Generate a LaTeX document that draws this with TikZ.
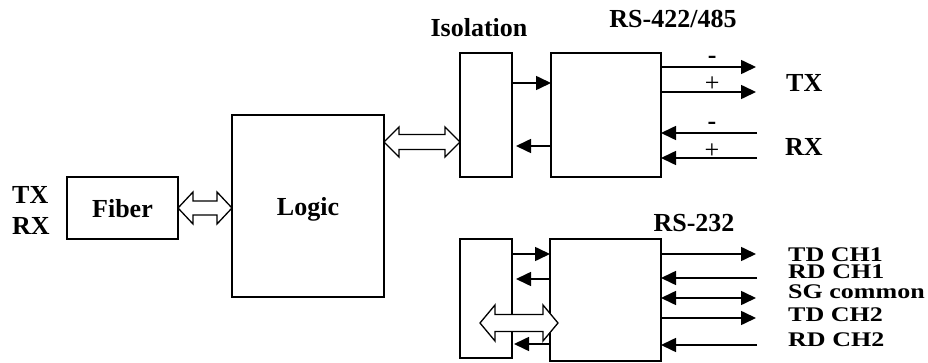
\documentclass[tikz,border=0pt]{standalone}
\usepackage{fontspec}
\setmainfont{Liberation Serif}
\usetikzlibrary{arrows.meta,calc}

% hollow two-headed bus arrow: from, to, half head, half shaft
\newcommand{\fatarrow}[4]{%
  \draw[busline] let \p1=#1, \p2=#2 in
    (\x1,\y1) -- (\x1+15pt,\y1+#3) -- (\x1+15pt,\y1+#4) -- (\x2-15pt,\y1+#4)
    -- (\x2-15pt,\y1+#3) -- (\x2,\y1) -- (\x2-15pt,\y1-#3) -- (\x2-15pt,\y1-#4)
    -- (\x1+15pt,\y1-#4) -- (\x1+15pt,\y1-#3) -- cycle;}

\begin{document}
\begin{tikzpicture}[
  x=1pt, y=-1pt,
  line join=miter,
  box/.style={draw, line width=1.5pt, inner sep=0pt, outer sep=0pt,
    font=\bfseries\fontsize{26}{30}\selectfont, text depth=0pt},
  lbl/.style={font=\bfseries\fontsize{26}{30}\selectfont, inner sep=0pt},
  sigl/.style={lbl, yscale=0.8},
  sign/.style={font=\fontsize{26}{30}\selectfont, inner sep=0pt, anchor=base},
  wire/.style={line width=1.6pt, -{Triangle[length=15pt,width=14pt]}},
  wire2/.style={line width=1.6pt, {Triangle[length=15pt,width=14pt]}-{Triangle[length=15pt,width=14pt]}},
  busline/.style={draw, fill=white, line width=1.3pt},
]
\useasboundingbox (0,0) rectangle (928,363);

% ── blocks ────────────────────────────────────────────────────────────────
\node[box, minimum width=111pt, minimum height=62pt]  (fiber)  at (122.5,208) {Fiber};
\node[box, minimum width=152pt, minimum height=182pt] (logic)  at (308,206)   {Logic};
\node[box, minimum width=52pt,  minimum height=124pt] (iso1)   at (486,115)   {};
\node[box, minimum width=110pt, minimum height=124pt] (rs422)  at (606,115)   {};
\node[box, minimum width=52pt,  minimum height=119pt] (iso2)   at (486,298.5) {};
\node[box, minimum width=111pt, minimum height=122pt] (rs232)  at (605.5,300) {};

% ── titles ────────────────────────────────────────────────────────────────
\node[lbl, anchor=base] (isotitle)   at (479,37)  {Isolation};
\node[lbl, anchor=base] (rs422title) at (673,28)  {RS-422/485};
\node[lbl, anchor=base] (rs232title) at (694,232) {RS-232};
\node[lbl, anchor=west] (fibtx) at (12,195) {TX};
\node[lbl, anchor=west] (fibrx) at (12,226) {RX};

% ── RS-422/485 side ───────────────────────────────────────────────────────
\coordinate (txn) at (756,67);
\coordinate (txp) at (756,92);
\coordinate (rxn) at (757,133);
\coordinate (rxp) at (757,158);

\draw[wire] (iso1.east |- 0,83) -- (rs422.west |- 0,83);
\draw[wire, shorten >=4pt] (rs422.west |- 0,146) -- (iso1.east |- 0,146);

\draw[wire] (rs422.east |- txn) -- (txn) node[sign, pos=0.54, yshift=3pt] {\textbf{-}};
\draw[wire] (rs422.east |- txp) -- (txp) node[sign, pos=0.54] {+};
\draw[wire] (rxn) -- (rs422.east |- rxn) node[sign, pos=0.47, yshift=3.5pt] {\textbf{-}};
\draw[wire] (rxp) -- (rs422.east |- rxp) node[sign, pos=0.47, yshift=-1pt] {+};

\node[lbl, anchor=west] (txlbl) at (786,83)  {TX};
\node[lbl, anchor=west] (rxlbl) at (785,147) {RX};

% ── RS-232 side ───────────────────────────────────────────────────────────
\coordinate (td1) at (756,254);
\coordinate (rd1) at (757,278);
\coordinate (sg)  at (756,298);
\coordinate (td2) at (756,318);
\coordinate (rd2) at (757,345);

\draw[wire] (iso2.east |- 0,254) -- (rs232.west |- 0,254);
\draw[wire, shorten >=4pt] (rs232.west |- 0,279) -- (iso2.east |- 0,279);
\draw[wire, shorten >=2pt] (rs232.west |- 0,344) -- (iso2.east |- 0,344);

\draw[wire]  (rs232.east |- td1) -- (td1);
\draw[wire]  (rd1) -- (rs232.east |- rd1);
\draw[wire2] (rs232.east |- sg) -- (sg);
\draw[wire]  (rs232.east |- td2) -- (td2);
\draw[wire]  (rd2) -- (rs232.east |- rd2);

\node[sigl, anchor=west] (td1lbl) at (788,255) {TD CH1};
\node[sigl, anchor=west] (rd1lbl) at (788,272) {RD CH1};
\node[sigl, anchor=west] (sglbl)  at (788,292) {SG common};
\node[sigl, anchor=west] (td2lbl) at (788,315) {TD CH2};
\node[sigl, anchor=west] (rd2lbl) at (788,340) {RD CH2};

% ── the hollow bus arrows, drawn last so they cover the lines ─────────────
\coordinate (busL) at (480,323);
\coordinate (busR) at (558,323);
\fatarrow{(fiber.east)}{(fiber.east -| logic.west)}{16pt}{7pt}
\fatarrow{(logic.east |- 0,142)}{(iso1.west |- 0,142)}{15pt}{7.5pt}
\fatarrow{(busL)}{(busR)}{18pt}{8.5pt}

\end{tikzpicture}
\end{document}
